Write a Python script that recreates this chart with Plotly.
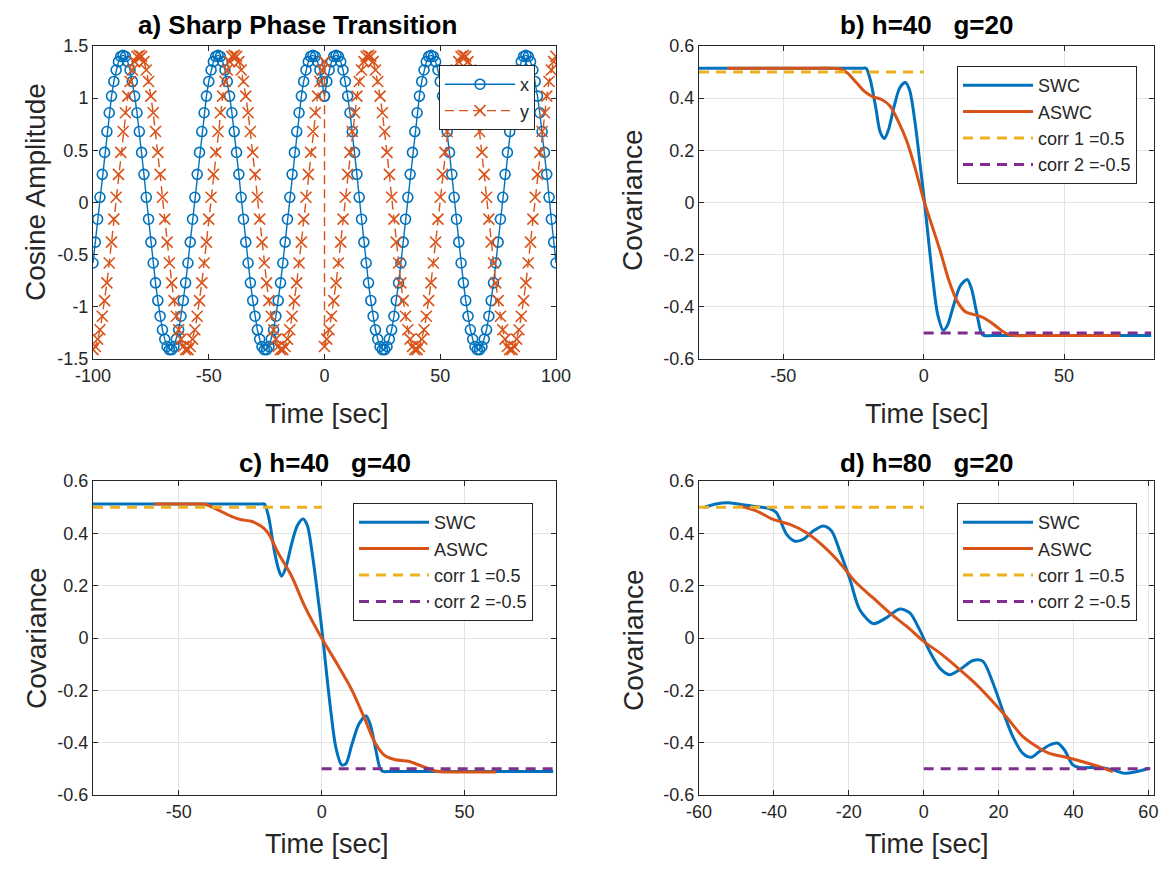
import plotly.graph_objects as go

# ---------------- Panel a: sampled cosines (1 s sampling, t=0 appears twice) ----------
time_a = list(range(-100, 1)) + list(range(0, 101))

x_a = [
    # t = -100 .. 0
    -0.58, -0.38, -0.16, 0.05, 0.27, 0.48, 0.68, 0.86, 1.02, 1.16, 1.27, 1.35, 1.40, 1.41,
    1.40, 1.35, 1.27, 1.16, 1.02, 0.86, 0.68, 0.48, 0.27, 0.05, -0.16, -0.38, -0.58, -0.77,
    -0.94, -1.09, -1.22, -1.31, -1.38, -1.41, -1.41, -1.38, -1.31, -1.22, -1.09, -0.94, -0.77,
    -0.58, -0.38, -0.16, 0.05, 0.27, 0.48, 0.68, 0.86, 1.02, 1.16, 1.27, 1.35, 1.40, 1.41,
    1.40, 1.35, 1.27, 1.16, 1.02, 0.86, 0.68, 0.48, 0.27, 0.05, -0.16, -0.38, -0.58, -0.77,
    -0.94, -1.09, -1.22, -1.31, -1.38, -1.41, -1.41, -1.38, -1.31, -1.22, -1.09, -0.94, -0.77,
    -0.58, -0.38, -0.16, 0.05, 0.27, 0.48, 0.68, 0.86, 1.02, 1.16, 1.27, 1.35, 1.40, 1.41,
    1.40, 1.35, 1.27, 1.16, 1.02,
    # t = 0 .. 100
    1.02, 1.16, 1.27, 1.35, 1.40,
    1.41, 1.40, 1.35, 1.27, 1.16, 1.02, 0.86, 0.68, 0.48, 0.27, 0.05, -0.16, -0.38, -0.58,
    -0.77, -0.94, -1.09, -1.22, -1.31, -1.38, -1.41, -1.41, -1.38, -1.31, -1.22, -1.09, -0.94,
    -0.77, -0.58, -0.38, -0.16, 0.05, 0.27, 0.48, 0.68, 0.86, 1.02, 1.16, 1.27, 1.35, 1.40,
    1.41, 1.40, 1.35, 1.27, 1.16, 1.02, 0.86, 0.68, 0.48, 0.27, 0.05, -0.16, -0.38, -0.58,
    -0.77, -0.94, -1.09, -1.22, -1.31, -1.38, -1.41, -1.41, -1.38, -1.31, -1.22, -1.09, -0.94,
    -0.77, -0.58, -0.38, -0.16, 0.05, 0.27, 0.48, 0.68, 0.86, 1.02, 1.16, 1.27, 1.35, 1.40,
    1.41, 1.40, 1.35, 1.27, 1.16, 1.02, 0.86, 0.68, 0.48, 0.27, 0.05, -0.16, -0.38, -0.58,
]

y_a = [
    # t = -100 .. 0
    -1.41, -1.38, -1.31, -1.22, -1.09, -0.94, -0.77, -0.58, -0.38, -0.16, 0.05, 0.27, 0.48,
    0.68, 0.86, 1.02, 1.16, 1.27, 1.35, 1.40,
    1.41, 1.40, 1.35, 1.27, 1.16, 1.02, 0.86, 0.68, 0.48, 0.27, 0.05, -0.16, -0.38, -0.58,
    -0.77, -0.94, -1.09, -1.22, -1.31, -1.38, -1.41, -1.41, -1.38, -1.31, -1.22, -1.09, -0.94,
    -0.77, -0.58, -0.38, -0.16, 0.05, 0.27, 0.48, 0.68, 0.86, 1.02, 1.16, 1.27, 1.35, 1.40,
    1.41, 1.40, 1.35, 1.27, 1.16, 1.02, 0.86, 0.68, 0.48, 0.27, 0.05, -0.16, -0.38, -0.58,
    -0.77, -0.94, -1.09, -1.22, -1.31, -1.38, -1.41, -1.41, -1.38, -1.31, -1.22, -1.09, -0.94,
    -0.77, -0.58, -0.38, -0.16, 0.05, 0.27, 0.48, 0.68, 0.86, 1.02, 1.16, 1.27, 1.35,
    # t = 0 .. 100
    -1.38, -1.31, -1.22, -1.09, -0.94, -0.77, -0.58, -0.38, -0.16, 0.05, 0.27, 0.48, 0.68,
    0.86, 1.02, 1.16, 1.27, 1.35, 1.40,
    1.41, 1.40, 1.35, 1.27, 1.16, 1.02, 0.86, 0.68, 0.48, 0.27, 0.05, -0.16, -0.38, -0.58,
    -0.77, -0.94, -1.09, -1.22, -1.31, -1.38, -1.41, -1.41, -1.38, -1.31, -1.22, -1.09, -0.94,
    -0.77, -0.58, -0.38, -0.16, 0.05, 0.27, 0.48, 0.68, 0.86, 1.02, 1.16, 1.27, 1.35, 1.40,
    1.41, 1.40, 1.35, 1.27, 1.16, 1.02, 0.86, 0.68, 0.48, 0.27, 0.05, -0.16, -0.38, -0.58,
    -0.77, -0.94, -1.09, -1.22, -1.31, -1.38, -1.41, -1.41, -1.38, -1.31, -1.22, -1.09, -0.94,
    -0.77, -0.58, -0.38, -0.16, 0.05, 0.27, 0.48, 0.68, 0.86, 1.02, 1.16, 1.27, 1.35, 1.40,
]

# ---------------- Panel b: h=40 g=20 ----------------
swc_b_t = [-80, -60, -40, -30, -24, -21.5, -20.5, -19, -17, -15.5, -14, -12.5, -10.5, -8.5,
           -6.5, -5, -3, -1, 0, 1, 3, 5, 7, 8.5, 10.5, 13, 15.5, 17, 19, 20.5, 21.5, 24, 30,
           40, 60, 81]
swc_b_v = [0.515, 0.515, 0.515, 0.515, 0.515, 0.515, 0.515, 0.47, 0.36, 0.27, 0.245, 0.28,
           0.37, 0.44, 0.46, 0.43, 0.30, 0.12, 0.03, -0.07, -0.27, -0.43, -0.49, -0.47, -0.40,
           -0.32, -0.295, -0.33, -0.43, -0.50, -0.51, -0.51, -0.51, -0.51, -0.51, -0.51]
aswc_b_t = [-70, -55, -40, -33, -30, -27, -24, -21, -18, -15, -12, -9, -6, -3, 0, 3, 6, 9,
            12, 15, 18, 21, 24, 27, 30, 33, 40, 55, 70]
aswc_b_v = [0.515, 0.515, 0.515, 0.515, 0.513, 0.495, 0.46, 0.425, 0.405, 0.395, 0.37, 0.31,
            0.235, 0.13, 0.01, -0.09, -0.19, -0.30, -0.38, -0.42, -0.43, -0.44, -0.46, -0.485,
            -0.505, -0.51, -0.51, -0.51, -0.51]

# ---------------- Panel c: h=40 g=40 ----------------
swc_c_t = [-80, -60, -40, -30, -24, -21, -20, -18.5, -16.5, -15, -14, -12.5, -10.5, -8.5,
           -6.5, -5, -3, -1, 0, 1, 3, 5, 7, 8.5, 10.5, 13, 15.5, 17, 19, 20.5, 21.5, 24, 30,
           40, 60, 81]
swc_c_v = [0.512, 0.512, 0.512, 0.512, 0.512, 0.512, 0.512, 0.46, 0.33, 0.26, 0.236, 0.27,
           0.36, 0.43, 0.455, 0.43, 0.30, 0.13, 0.04, -0.06, -0.26, -0.42, -0.485, -0.48,
           -0.41, -0.33, -0.297, -0.33, -0.43, -0.50, -0.51, -0.51, -0.51, -0.51, -0.51, -0.51]
aswc_c_t = [-58.5, -52, -46, -42, -40.5, -36.3, -31.6, -28.1, -24.6, -21.1, -18.7, -15.2,
            -10.5, -5.9, 0, 5.9, 10.5, 15.2, 18.7, 22.2, 25.8, 30.4, 35.1, 39.8, 43, 48, 55, 61]
aswc_c_v = [0.512, 0.512, 0.512, 0.512, 0.51, 0.49, 0.465, 0.452, 0.446, 0.427, 0.401, 0.325,
            0.236, 0.121, 0.0, -0.108, -0.197, -0.312, -0.401, -0.45, -0.465, -0.471, -0.49,
            -0.508, -0.512, -0.512, -0.512, -0.512]

# ---------------- Panel d: h=80 g=20 ----------------
swc_d_t = [-58.8, -55.5, -52.2, -47.3, -41.1, -39.3, -36.6, -34.4, -32.2, -29.5, -26.8, -24.6,
           -22.4, -19.7, -17.1, -13.5, -10, -6.4, -3.7, -1.1, 1.6, 4.3, 6.9, 9.6, 13.2, 15.8,
           18.5, 21.2, 23.8, 26.5, 28.7, 30.9, 33.6, 35.8, 37.6, 39.8, 41.6, 46.9, 50.5, 53.6,
           56.7, 60.3]
swc_d_v = [0.498, 0.512, 0.517, 0.507, 0.494, 0.479, 0.396, 0.37, 0.377, 0.409, 0.428, 0.409,
           0.332, 0.224, 0.109, 0.055, 0.077, 0.111, 0.096, 0.032, -0.051, -0.115, -0.14,
           -0.121, -0.086, -0.089, -0.172, -0.281, -0.377, -0.441, -0.456, -0.434, -0.409,
           -0.402, -0.428, -0.485, -0.495, -0.495, -0.504, -0.517, -0.511, -0.498]
aswc_d_t = [-49.1, -44.6, -40.2, -35.7, -31.3, -26.8, -22.4, -18, -13.5, -9.1, -4.6, 0, 4.3,
            8.7, 13.2, 17.6, 22, 26.5, 30.9, 33.6, 38, 42.5, 46.9, 50.5]
aswc_d_v = [0.504, 0.485, 0.453, 0.434, 0.402, 0.351, 0.287, 0.211, 0.153, 0.096, 0.045,
            -0.013, -0.057, -0.109, -0.166, -0.23, -0.30, -0.377, -0.421, -0.441, -0.456,
            -0.473, -0.492, -0.511]

# reference correlation levels
corr1_value = 0.5
corr2_value = -0.5
corr1_t_bc = [-80, 0]
corr2_t_bc = [0, 81]
corr1_t_d = [-60, 0]
corr2_t_d = [0, 60.5]

# tick labels
xa_ticks = [-100, -50, 0, 50, 100]
xa_text = ["-100", "-50", "0", "50", "100"]
xbc_ticks = [-50, 0, 50]
xbc_text = ["-50", "0", "50"]
xd_ticks = [-60, -40, -20, 0, 20, 40, 60]
xd_text = ["-60", "-40", "-20", "0", "20", "40", "60"]
ya_ticks = [-1.5, -1, -0.5, 0, 0.5, 1, 1.5]
ya_text = ["-1.5", "-1", "-0.5", "0", "0.5", "1", "1.5"]
yc_ticks = [-0.6, -0.4, -0.2, 0, 0.2, 0.4, 0.6]
yc_text = ["-0.6", "-0.4", "-0.2", "0", "0.2", "0.4", "0.6"]

BLUE = "#0072BD"
ORANGE = "#D95319"
YELLOW = "#EDB120"
PURPLE = "#7E2F8E"
AX = "#262626"
GRID = "#e3e3e3"
FONT = "Liberation Sans, Arial, Helvetica, sans-serif"

fig = go.Figure()

# panel a
fig.add_trace(go.Scatter(
    x=time_a, y=x_a, name="x", mode="lines+markers", xaxis="x", yaxis="y",
    line=dict(color=BLUE, width=1.4),
    marker=dict(symbol="circle-open", size=10, color=BLUE, line=dict(width=1.6, color=BLUE)),
    legend="legend"))
fig.add_trace(go.Scatter(
    x=time_a, y=y_a, name="y", mode="lines+markers", xaxis="x", yaxis="y",
    line=dict(color=ORANGE, width=1.4, dash="9px,5px"),
    marker=dict(symbol="x-thin", size=11, color=ORANGE, line=dict(width=1.6, color=ORANGE)),
    legend="legend"))

panels = [
    ("2", "legend2", swc_b_t, swc_b_v, aswc_b_t, aswc_b_v, corr1_t_bc, corr2_t_bc),
    ("3", "legend3", swc_c_t, swc_c_v, aswc_c_t, aswc_c_v, corr1_t_bc, corr2_t_bc),
    ("4", "legend4", swc_d_t, swc_d_v, aswc_d_t, aswc_d_v, corr1_t_d, corr2_t_d),
]
for ax, leg, st, sv, at, av, c1t, c2t in panels:
    fig.add_trace(go.Scatter(x=st, y=sv, name="SWC", mode="lines",
                             line=dict(color=BLUE, width=3, shape="spline", smoothing=0.8),
                             xaxis="x" + ax, yaxis="y" + ax, legend=leg))
    fig.add_trace(go.Scatter(x=at, y=av, name="ASWC", mode="lines",
                             line=dict(color=ORANGE, width=3, shape="spline", smoothing=0.8),
                             xaxis="x" + ax, yaxis="y" + ax, legend=leg))
    fig.add_trace(go.Scatter(x=c1t, y=[corr1_value] * len(c1t), name="corr 1 =0.5", mode="lines",
                             line=dict(color=YELLOW, width=3, dash="10px,7px"),
                             xaxis="x" + ax, yaxis="y" + ax, legend=leg))
    fig.add_trace(go.Scatter(x=c2t, y=[corr2_value] * len(c2t), name="corr 2 =-0.5", mode="lines",
                             line=dict(color=PURPLE, width=3, dash="10px,7px"),
                             xaxis="x" + ax, yaxis="y" + ax, legend=leg))

# The page body has an 8px margin: the figure is sized to fit the window and all
# positions below are given in window pixels, then converted to paper fractions.
OFF = 8
W, H = 1173 - 2 * OFF, 869 - 2 * OFF


def px(xw):
    return (xw - OFF) / W


def py(yw):
    return 1 - (yw - OFF) / H


colL = [px(93), px(556)]
colR = [px(699), px(1154)]
rowT = [py(359), py(46)]
rowB = [py(795), py(481)]


def axis(domain, anchor, rng, tickvals, ticktext, grid=False):
    return dict(domain=domain, anchor=anchor, range=rng, tickvals=tickvals, ticktext=ticktext,
                automargin=False, showline=True, linecolor=AX, linewidth=1, mirror="ticks",
                ticks="inside", ticklen=5, tickcolor=AX, tickwidth=1,
                zeroline=False, showgrid=grid, gridcolor=GRID, gridwidth=1,
                tickfont=dict(family=FONT, size=18, color=AX))


legend_common = dict(bgcolor="white", bordercolor=AX, borderwidth=1,
                     font=dict(family=FONT, size=18, color=AX),
                     xanchor="left", yanchor="top", itemwidth=70, tracegroupgap=0,
                     itemclick=False, itemdoubleclick=False)

fig.update_layout(
    width=W, height=H, margin=dict(l=0, r=0, t=0, b=0),
    paper_bgcolor="white", plot_bgcolor="white", showlegend=True,
    xaxis=axis(colL, "y", [-100, 100], xa_ticks, xa_text),
    yaxis=axis(rowT, "x", [-1.5, 1.5], ya_ticks, ya_text),
    xaxis2=axis(colR, "y2", [-80, 82], xbc_ticks, xbc_text, grid=True),
    yaxis2=axis(rowT, "x2", [-0.6, 0.6], yc_ticks, yc_text, grid=True),
    xaxis3=axis(colL, "y3", [-80, 82], xbc_ticks, xbc_text, grid=True),
    yaxis3=axis(rowB, "x3", [-0.6, 0.6], yc_ticks, yc_text, grid=True),
    xaxis4=axis(colR, "y4", [-60, 61.5], xd_ticks, xd_text, grid=True),
    yaxis4=axis(rowB, "x4", [-0.6, 0.6], yc_ticks, yc_text, grid=True),
    legend=dict(x=px(439), y=py(65), **legend_common),
    legend2=dict(x=px(957), y=py(66), **legend_common),
    legend3=dict(x=px(353), y=py(503), **legend_common),
    legend4=dict(x=px(957), y=py(503), **legend_common),
)

ann = []
# titles (top row anchored to the top edge of the figure so nothing is clipped)
for txt, cx, cy, anc in [("a) Sharp Phase Transition", 297, 9, "top"),
                         ("b) h=40   g=20", 926.5, 9, "top"),
                         ("c) h=40   g=40", 324.5, 463, "middle"),
                         ("d) h=80   g=20", 926.5, 463, "middle")]:
    ann.append(dict(text="<b>" + txt.replace("   ", "&nbsp;&nbsp;&nbsp;") + "</b>",
                    x=px(cx), y=py(cy), xref="paper", yref="paper",
                    xanchor="center", yanchor=anc, showarrow=False, borderpad=0,
                    font=dict(family=FONT, size=26, color="black")))
# x axis titles
for cx, cy, anc in [(327, 414, "middle"), (926.5, 414, "middle"),
                    (327, 860, "bottom"), (926.5, 860, "bottom")]:
    ann.append(dict(text="Time [sec]", x=px(cx), y=py(cy), xref="paper", yref="paper",
                    xanchor="center", yanchor=anc, showarrow=False, borderpad=0,
                    font=dict(family=FONT, size=27, color=AX)))
# y axis titles
for txt, cx, cy in [("Cosine Amplitude", 36, 192), ("Covariance", 633, 200),
                    ("Covariance", 36, 638), ("Covariance", 633, 640)]:
    ann.append(dict(text=txt, x=px(cx), y=py(cy), xref="paper", yref="paper",
                    xanchor="center", yanchor="middle", showarrow=False, textangle=-90,
                    font=dict(family=FONT, size=28, color=AX)))
fig.update_layout(annotations=ann)

fig.write_html("out.html")
